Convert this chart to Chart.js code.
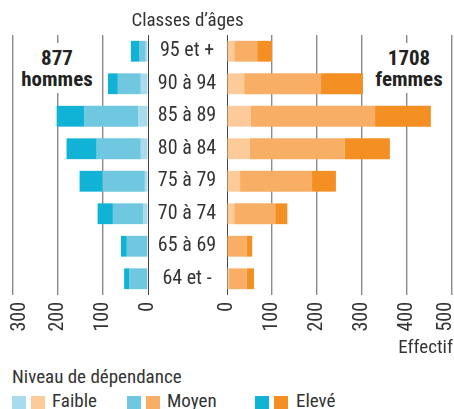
<!DOCTYPE html>
<html><head><meta charset="utf-8">
<script src="https://cdn.jsdelivr.net/npm/chart.js@4"></script>
<style>
html,body{margin:0;padding:0;background:#fff;}
body{width:454px;height:409px;overflow:hidden;position:relative;font-family:"Roboto Condensed",Roboto,sans-serif;font-stretch:condensed;color:#333;}
canvas{position:absolute;top:0;}
#cl{left:0;}
#cr{left:150px;}
.t{position:absolute;white-space:nowrap;font-size:19px;line-height:20px;}
.big{position:absolute;white-space:nowrap;font-size:21px;line-height:21px;font-weight:bold;color:#222;background:#fff;text-align:center;padding:5px 3px 3px 3px;transform:translateX(-50%);}
.sq{position:absolute;width:14px;height:14px;top:396px;}
</style></head>
<body>
<canvas id="cl" width="180" height="345"></canvas>
<canvas id="cr" width="334" height="345"></canvas>
<div class="t" style="left:87.5px;width:200px;text-align:center;top:10px;">Classes d’âges</div>
<div class="big" id="menBox" style="left:57px;top:43px;"></div>
<div class="big" id="womenBox" style="left:409px;top:43px;"></div>
<div class="t" style="right:1px;top:337px;">Effectif</div>
<div class="t" style="left:12px;top:367px;">Niveau de dépendance</div>
<div id="legend"></div>
<script>
const categories = ['95 et +','90 à 94','85 à 89','80 à 84','75 à 79','70 à 74','65 à 69','64 et -'];
const levels = ['Faible','Moyen','Elevé'];
const menFaible = [5,16,22,16,7,11,2,2];
const menMoyen  = [15,51,119,98,94,67,45,40];
const menEleve  = [18,22,62,67,51,34,13,11];
const womenFaible = [16,38,53,51,29,16,1,4];
const womenMoyen  = [51,171,276,211,160,91,42,40];
const womenEleve  = [33,93,124,100,53,27,13,16];
const menTotal = 877;
const womenTotal = 1708;
const menTicks = [0,100,200,300];
const womenTicks = [0,100,200,300,400,500];

const menColors = ['#aadbec','#6fc7e0','#10b2d6'];
const womenColors = ['#fccb99','#f9ae66','#f48f23'];
const FONT = '"Roboto Condensed", Roboto, sans-serif';
const FS = 20;
const TEXT = '#333';

document.getElementById('menBox').innerHTML = menTotal + '<br>hommes';
document.getElementById('womenBox').innerHTML = womenTotal + '<br>femmes';

// legend
const lg = document.getElementById('legend');
const legendX = [[12,31,52],[127,146,167],[255,274,296]];
levels.forEach((lv,i)=>{
  const [a,b,c] = legendX[i];
  lg.insertAdjacentHTML('beforeend',
    `<div class="sq" style="left:${a}px;background:${menColors[i]}"></div>`+
    `<div class="sq" style="left:${b}px;background:${womenColors[i]}"></div>`+
    `<div class="t" style="left:${c}px;top:391px;">${lv}</div>`);
});

const edgeLabels = {
  id:'edgeLabels',
  beforeDraw(chart, args, opts){
    const items = chart.scales.x.getLabelItems();
    if(!items || !items.length) return;
    let target = items[0];
    for(const it of items){
      const x = it.options.translation[0];
      const tx = target.options.translation[0];
      if(opts.side==='left' ? x < tx : x > tx) target = it;
    }
    if(!target._shifted){
      target.options.translation[0] += (opts.side==='left' ? opts.shift : -opts.shift);
      target._shifted = true;
    }
  }
};

function gridColor(ctx){ return ctx.tick && ctx.tick.value===0 ? '#444' : '#8a8a8a'; }
function gridWidth(ctx){ return ctx.tick && ctx.tick.value===0 ? 1 : 1.4; }

function xScale(max, reverse, ticksArr){
  return {
    stacked:true, reverse:reverse, min:0, max:max,
    afterBuildTicks: s => { s.ticks = ticksArr.map(v=>({value:v})); },
    afterFit: s => { s.height = 50; },
    ticks:{minRotation:90,maxRotation:90,autoSkip:false,padding:7,color:TEXT,font:{family:FONT,size:FS}},
    grid:{drawTicks:false,color:gridColor,lineWidth:gridWidth},
    border:{display:false}
  };
}

function ds(vals, colors){
  return [
    {label:levels[0], data:vals[0], backgroundColor:colors[0]},
    {label:levels[1], data:vals[1], backgroundColor:colors[1]},
    {label:levels[2], data:vals[2], backgroundColor:colors[2]}
  ];
}

const common = {
  indexAxis:'y', responsive:false, animation:false,
  datasets:{bar:{barPercentage:0.64,categoryPercentage:1,borderWidth:0}},
};

new Chart(document.getElementById('cl'), {
  type:'bar',
  data:{labels:categories, datasets:ds([menFaible,menMoyen,menEleve], menColors)},
  options:Object.assign({}, common, {
    layout:{padding:{left:13,right:32,top:35,bottom:0}},
    plugins:{legend:{display:false},tooltip:{enabled:false},edgeLabels:{side:'left',shift:7}},
    scales:{ x:xScale(300,true,menTicks), y:{stacked:true,display:false} }
  }),
  plugins:[edgeLabels]
});

// center category labels between the two panels
const mctx = document.createElement('canvas').getContext('2d');
mctx.font = `${FS}px ${FONT}`;
const widest = Math.max(...categories.map(c=>mctx.measureText(c).width));
const gapHalf = 40;

new Chart(document.getElementById('cr'), {
  type:'bar',
  data:{labels:categories, datasets:ds([womenFaible,womenMoyen,womenEleve], womenColors)},
  options:Object.assign({}, common, {
    layout:{padding:{left:0,right:32,top:35,bottom:0}},
    plugins:{legend:{display:false},tooltip:{enabled:false},edgeLabels:{side:'right',shift:6}},
    scales:{
      x:xScale(500,false,womenTicks),
      y:{stacked:true, afterFit:s=>{s.width=77;}, grid:{display:false,drawTicks:false}, border:{display:false},
         ticks:{crossAlign:'center', padding:Math.max(0,gapHalf-widest/2), color:TEXT, font:{family:FONT,size:FS}}}
    }
  }),
  plugins:[edgeLabels]
});
</script>
</body></html>
